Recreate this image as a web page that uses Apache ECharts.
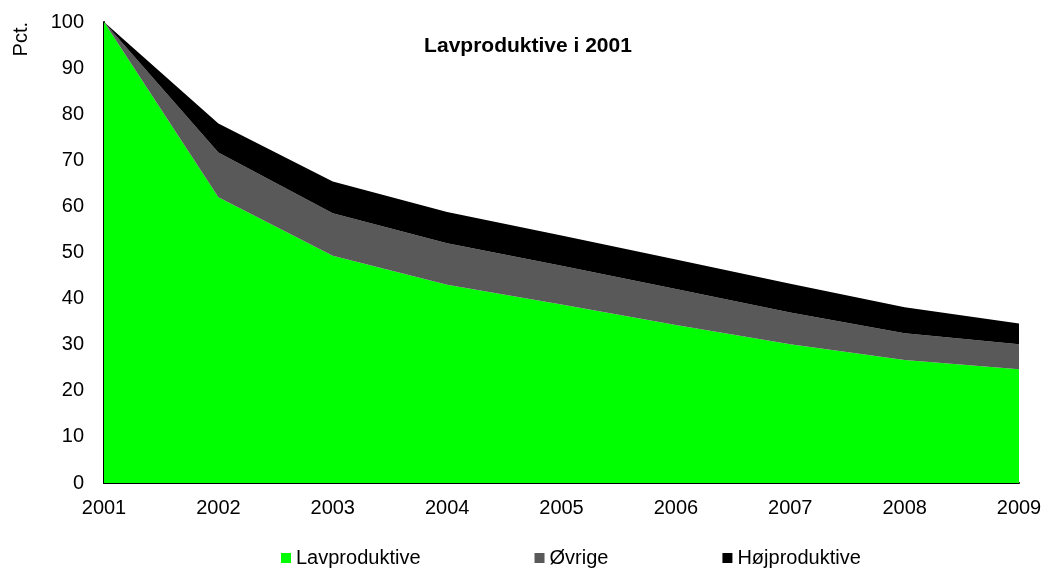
<!DOCTYPE html>
<html>
<head>
<meta charset="utf-8">
<script src="https://cdn.jsdelivr.net/npm/echarts@6/dist/echarts.min.js"></script>
<style>
html,body{margin:0;padding:0;background:#fff;}
#chart{width:1045px;height:570px;}
</style>
</head>
<body>
<div id="chart"></div>
<script>
// years on the x axis
const years=["2001","2002","2003","2004","2005","2006","2007","2008","2009"];

// stacked parts, pct.
const lavproduktive=[100,62.0,49.3,43.0,38.7,34.3,30.1,26.7,24.7];
const ovrige=[0,9.7,9.2,9.0,8.4,7.8,6.9,5.8,5.4];
const hojproduktive=[0,6.3,6.9,6.8,6.6,6.4,6.2,5.6,4.5];

const chart=echarts.init(document.getElementById("chart"));

const font="'Liberation Sans', Arial, sans-serif";

function areaSeries(name,data,color){
    return {
        name:name,
        type:"line",
        stack:"total",
        data:data,
        symbol:"none",
        lineStyle:{width:0},
        areaStyle:{color:color,opacity:1},
        itemStyle:{color:color}
    };
}

chart.setOption({
    animation:false,
    textStyle:{fontFamily:font},
    title:{
        text:"Lavproduktive i 2001",
        left:523,
        top:31,
        textAlign:"center",
        textStyle:{fontSize:21,fontWeight:"bold",color:"#000",fontFamily:font}
    },
    grid:{left:104,right:26,top:22,bottom:87},
    legend:{
        left:281,
        top:548,
        padding:0,
        itemWidth:10,
        itemHeight:10,
        itemGap:114,
        icon:"rect",
        textStyle:{fontSize:20,color:"#000",fontFamily:font},
        data:["Lavproduktive","Øvrige","Højproduktive"]
    },
    xAxis:{
        type:"category",
        data:years,
        boundaryGap:false,
        axisLine:{lineStyle:{color:"#000",width:2}},
        axisTick:{show:false},
        axisLabel:{fontSize:20,color:"#000",margin:15,fontFamily:font},
        splitLine:{show:false}
    },
    yAxis:{
        type:"value",
        min:0,
        max:100,
        interval:10,
        name:"Pct.",
        nameLocation:"end",
        nameRotate:90,
        nameGap:0,
        nameTextStyle:{fontSize:20,color:"#000",fontFamily:font,align:"right",verticalAlign:"bottom",padding:[0,0,73,0]},
        axisLine:{show:true,lineStyle:{color:"#000",width:2}},
        axisTick:{show:false},
        axisLabel:{fontSize:20,color:"#000",margin:20,fontFamily:font},
        splitLine:{show:false}
    },
    series:[
        areaSeries("Lavproduktive",lavproduktive,"#00ff00"),
        areaSeries("Øvrige",ovrige,"#595959"),
        areaSeries("Højproduktive",hojproduktive,"#000000")
    ]
});

window.addEventListener("resize",()=>chart.resize());
</script>
</body>
</html>
